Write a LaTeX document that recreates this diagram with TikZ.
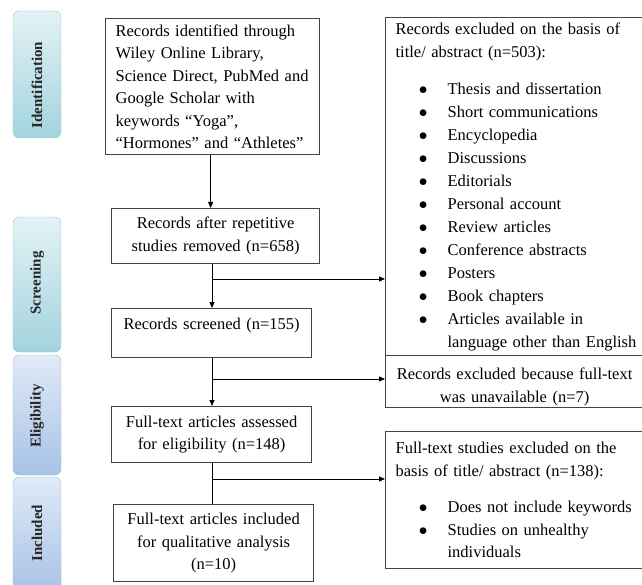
\documentclass[tikz,border=0pt]{standalone}
\usepackage{fontspec}
\setmainfont{Liberation Serif}
\usetikzlibrary{arrows.meta}

\definecolor{tealL}{HTML}{E2F2F5}
\definecolor{tealD}{HTML}{A3D3DE}
\definecolor{tealB}{HTML}{9CC9D3}
\definecolor{blueL}{HTML}{E0EAF7}
\definecolor{blueD}{HTML}{A8C2E6}
\definecolor{blueB}{HTML}{A5BDDB}
\definecolor{boxline}{HTML}{444444}

\newcommand{\bitem}[1]{\hspace*{52pt}\llap{$\bullet$\hspace{20pt}}#1}
\newcommand{\bcont}[1]{\hspace*{52pt}#1}

\begin{document}
\begin{tikzpicture}[x=1pt, y=-1pt]
        \tikzstyle{box}=[draw=boxline, line width=1.2pt, rectangle, anchor=north west,
            inner xsep=10pt, inner ysep=0pt, font=\fontsize{16.5}{22.5}\selectfont]
        \tikzstyle{phase}=[draw=tealB, rounded corners=6pt, rotate=90, inner sep=0pt,
            top color=tealL, bottom color=tealD, minimum height=48pt]
        \tikzstyle{phaseb}=[phase, draw=blueB, top color=blueL, bottom color=blueD]
        \tikzstyle{phasetext}=[rotate=90, inner sep=0pt, text=black!85,
            font=\fontsize{15}{18}\selectfont\bfseries]
        \tikzstyle{arr}=[line width=0.8pt, -{Triangle[length=6pt,width=5pt]}]
        \tikzstyle{link}=[line width=0.8pt]

        \useasboundingbox (0,0) rectangle (642,585);

        % Phase labels on the left
        \node[phase, minimum width=127pt] (pid) at (37,74.5) {};
        \node[phase, minimum width=135pt] (pscr) at (37,284.5) {};
        \node[phaseb, minimum width=120pt] (pelig) at (37,415) {};
        \node[phaseb, minimum width=115pt] (pincl) at (37,534.5) {};
        \node[phasetext] (tid) at (37,85) {Identification};
        \node[phasetext] (tscr) at (37,283) {Screening};
        \node[phasetext] (telig) at (37,416) {Eligibility};
        \node[phasetext] (tincl) at (37,533) {Included};

        % Main column
        \node[box, minimum width=214pt, minimum height=136pt, text width=194pt, align=left]
            (ident) at (105,18) {Records identified through\\Wiley Online Library,\\Science Direct, PubMed and\\Google Scholar with\\keywords ``Yoga",\\``Hormones" and ``Athletes"};
        \node[box, minimum width=208pt, minimum height=55pt, text width=188pt, align=center]
            (remov) at (111,208) {Records after repetitive\\studies removed (n=658)};
        \node[box, minimum width=200pt, minimum height=49pt, text width=180pt, align=center]
            (scrn) at (111,308) {Records screened (n=155)\\[-4pt]\mbox{}};
        \node[box, minimum width=200pt, minimum height=56pt, text width=180pt, align=center]
            (elig) at (111,406) {Full-text articles assessed\\for eligibility (n=148)};
        \node[box, minimum width=200pt, minimum height=77pt, text width=180pt, align=center]
            (incl) at (113,504) {Full-text articles included\\for qualitative analysis\\(n=10)};

        % Exclusion boxes on the right
        \node[box, minimum width=270pt, minimum height=338pt, text width=250pt, align=left,
            font=\fontsize{16.5}{23}\selectfont]
            (excla) at (385,17) {Records excluded on the basis of\\title/ abstract (n=503):\\[14pt]
            \bitem{Thesis and dissertation}\\\bitem{Short communications}\\\bitem{Encyclopedia}\\
            \bitem{Discussions}\\\bitem{Editorials}\\\bitem{Personal account}\\
            \bitem{Review articles}\\\bitem{Conference abstracts}\\\bitem{Posters}\\
            \bitem{Book chapters}\\\bitem{Articles available in}\\\bcont{language other than English}};
        \node[box, minimum width=258pt, minimum height=52pt, text width=238pt, align=center]
            (exclb) at (385,355) {\rule{0pt}{22pt}Records excluded because full-text\\was unavailable (n=7)};
        \node[box, minimum width=270pt, minimum height=137pt, text width=250pt, align=left]
            (exclc) at (385,431) {Full-text studies excluded on the\\basis of title/ abstract (n=138):\\[14pt]
            \bitem{Does not include keywords}\\\bitem{Studies on unhealthy}\\\bcont{individuals}};

        % Branch points
        \coordinate (br1) at (212,279);
        \coordinate (br2) at (212,379);
        \coordinate (br3) at (212,479);

        % Vertical flow
        \draw[arr] (ident.south) ++(-2,0) coordinate (s1) -- (s1 |- remov.north);
        \draw[arr] (br1 |- remov.south) -- (br1 |- scrn.north);
        \draw[arr] (br2 |- scrn.south) -- (br2 |- elig.north);
        \draw[link] (br3 |- elig.south) -- (br3 |- incl.north);

        % Side arrows
        \draw[arr] (br1) -- (br1 -| excla.west);
        \draw[arr] (br2) -- (br2 -| exclb.west);
        \draw[arr] (br3) -- (br3 -| exclc.west);
    \end{tikzpicture}
\end{document}
